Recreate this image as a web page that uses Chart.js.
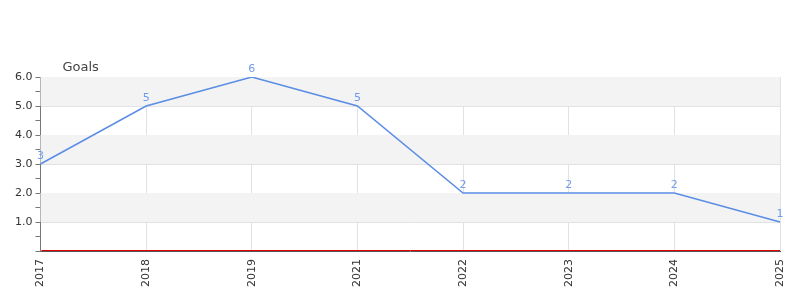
<!DOCTYPE html>
<html>
<head>
<meta charset="utf-8">
<script src="https://cdn.jsdelivr.net/npm/chart.js@4/dist/chart.umd.min.js"></script>
<style>
html,body{margin:0;padding:0;background:#fff;}
#wrap{width:800px;height:300px;position:relative;}
</style>
</head>
<body>
<div id="wrap"><canvas id="c" width="800" height="300"></canvas></div>
<script>
const categories = ["2017","2018","2019","2021","2022","2023","2024","2025"];
const goals = [3,5,6,5,2,2,2,1];
const seriesName = "Goals";
const yMin = 0, yMax = 6, yStep = 0.5;

const bandsPlugin = {
  id: 'bands',
  beforeDatasetsDraw(chart) {
    const {ctx, chartArea, scales} = chart;
    const y = scales.y;
    ctx.save();
    for (let v = yMin; v < yMax; v += 1) {
      if (Math.round(v) % 2 === 1) {
        const top = y.getPixelForValue(v + 1);
        const bot = y.getPixelForValue(v);
        ctx.fillStyle = '#f3f3f3';
        ctx.fillRect(chartArea.left, top, chartArea.right - chartArea.left, bot - top);
      }
    }
    ctx.restore();
  }
};

const zeroLine = {
  id: 'zeroLine',
  afterDraw(chart) {
    const {ctx, chartArea, scales} = chart;
    const py = Math.round(scales.y.getPixelForValue(0)) - 0.5;
    ctx.save();
    ctx.strokeStyle = '#e00000';
    ctx.lineWidth = 1;
    ctx.beginPath();
    ctx.moveTo(chartArea.left + 1, py);
    ctx.lineTo(chartArea.right, py);
    ctx.stroke();
    ctx.restore();
  }
};

const labelsPlugin = {
  id: 'valueLabels',
  afterDatasetsDraw(chart) {
    const {ctx} = chart;
    const meta = chart.getDatasetMeta(0);
    ctx.save();
    ctx.font = '11px "DejaVu Sans"';
    ctx.fillStyle = '#6f9cec';
    ctx.textAlign = 'center';
    ctx.textBaseline = 'bottom';
    meta.data.forEach((pt, i) => {
      ctx.fillText(String(goals[i]), pt.x, pt.y - 2);
    });
    ctx.restore();
  }
};

const titlePlugin = {
  id: 'axisTitle',
  afterDraw(chart) {
    const {ctx, chartArea} = chart;
    ctx.save();
    ctx.font = '13px "DejaVu Sans"';
    ctx.fillStyle = '#444';
    ctx.textAlign = 'left';
    ctx.textBaseline = 'alphabetic';
    ctx.fillText(seriesName, chartArea.left + 22, chartArea.top - 6);
    ctx.restore();
  }
};

new Chart(document.getElementById('c'), {
  type: 'line',
  data: {
    labels: categories,
    datasets: [{
      label: seriesName,
      data: goals,
      borderColor: '#5a8de6',
      borderWidth: 1.5,
      pointRadius: 0,
      tension: 0,
      fill: false
    }]
  },
  options: {
    responsive: false,
    animation: false,
    layout: { padding: { top: 77, right: 20, left: 12, bottom: 5 } },
    plugins: { legend: { display: false }, tooltip: { enabled: false } },
    scales: {
      x: {
        offset: false,
        afterFit: (s) => { s.paddingRight = 0; s.paddingLeft = 0; },
        grid: { color: '#e2e2e2', drawTicks: false },
        border: { color: '#555', width: 1 },
        ticks: {
          color: '#333', font: { family: 'DejaVu Sans', size: 11 },
          maxRotation: 90, minRotation: 90, padding: 8, autoSkip: false
        }
      },
      y: {
        min: yMin, max: yMax,
        grid: {
          color: (c) => (c.tick && Number.isInteger(c.tick.value) && c.tick.value !== 0) ? '#e2e2e2' : 'rgba(0,0,0,0)',
          tickLength: 5, tickColor: '#777'
        },
        border: { color: '#777', width: 1 },
        ticks: {
          stepSize: yStep, color: '#333', font: { family: 'DejaVu Sans', size: 11 }, padding: 3,
          autoSkip: false,
          callback: (v) => (Number.isInteger(v) && v !== 0) ? v.toFixed(1) : ''
        }
      }
    }
  },
  plugins: [bandsPlugin, labelsPlugin, zeroLine, titlePlugin]
});
</script>
</body>
</html>
